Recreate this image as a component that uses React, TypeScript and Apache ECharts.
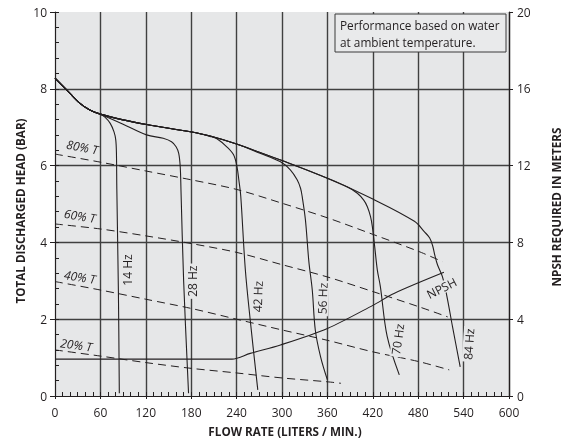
import React, { useEffect, useRef } from 'react';
import * as echarts from 'echarts';

// ---- data (flow L/min, head bar) ----
const hz14 = [[0, 8.28], [15, 7.98], [33, 7.62], [46, 7.45], [60, 7.34], [66, 7.26], [73, 7.1], [78, 6.88], [80.3, 6.67], [81.2, 6.32], [81.7, 5.4], [83.8, 2.7], [85, 0.07]];
const hz28 = [[0, 8.28], [15, 7.98], [33, 7.62], [46, 7.45], [60, 7.34], [90, 7.08], [121, 6.8], [143, 6.71], [154, 6.62], [160, 6.49], [163.5, 6.32], [165.5, 5.97], [166.5, 5.36], [170, 3.0], [176.5, 0.07]];
const hz42 = [[0, 8.28], [15, 7.98], [33, 7.62], [46, 7.45], [60, 7.34], [90, 7.19], [121, 7.07], [179, 6.88], [205, 6.76], [214, 6.7], [227, 6.49], [236, 6.28], [240.5, 5.97], [243, 5.62], [245.5, 5.2], [251.5, 3.3], [258, 1.98], [268, 0.16]];
const hz56 = [[0, 8.28], [15, 7.98], [33, 7.62], [46, 7.45], [60, 7.34], [90, 7.19], [121, 7.07], [179, 6.88], [205, 6.77], [240, 6.56], [270, 6.33], [298, 6.1], [311, 5.89], [320, 5.63], [324.5, 5.41], [326.7, 5.19], [331, 4.58], [335.5, 3.5], [340, 2.76], [344, 1.72], [351, 1.02], [360, 0.42]];
const hz70 = [[0, 8.28], [15, 7.98], [33, 7.62], [46, 7.45], [60, 7.34], [90, 7.19], [121, 7.07], [179, 6.88], [205, 6.77], [240, 6.56], [300, 6.13], [360, 5.67], [386, 5.45], [399.6, 5.28], [408, 5.1], [412.8, 4.93], [417, 4.67], [419.4, 4.41], [422.5, 3.89], [426, 3.28], [430, 2.85], [439, 1.55], [455, 0.55]];
const hz84 = [[0, 8.28], [15, 7.98], [33, 7.62], [46, 7.45], [60, 7.34], [90, 7.19], [121, 7.07], [179, 6.88], [205, 6.77], [240, 6.56], [300, 6.13], [360, 5.67], [420, 5.13], [475, 4.55], [488, 4.28], [495, 4.12], [499, 3.92], [502, 3.66], [505.6, 3.41], [512, 3.11], [518, 2.59], [525.4, 1.8], [535.5, 0.76]];

const eff80 = [[0, 6.3], [60, 6.09], [120, 5.86], [180, 5.63], [240, 5.38], [300, 5.02], [360, 4.64], [420, 4.21], [480, 3.77], [512, 3.5]];
const eff60 = [[0, 4.48], [60, 4.35], [120, 4.17], [180, 3.97], [240, 3.74], [300, 3.42], [360, 3.1], [420, 2.72], [480, 2.33], [519, 2.06]];
const eff40 = [[0, 2.98], [60, 2.76], [120, 2.52], [180, 2.28], [240, 2.0], [300, 1.72], [360, 1.45], [420, 1.15], [480, 0.9], [521, 0.68]];
const eff20 = [[0, 1.2], [60, 1.04], [120, 0.87], [180, 0.72], [240, 0.6], [300, 0.47], [360, 0.37], [378, 0.33]];

// NPSH required (flow L/min, meters)
const npsh = [[0, 1.92], [234, 1.92], [258, 2.22], [298, 2.66], [360, 3.52], [420, 4.72], [448, 5.34], [514, 6.44]];

const speedLabels = [
  { text: '14 Hz', flow: 96, head: 3.28, angle: 90 },
  { text: '28 Hz', flow: 182, head: 2.99, angle: 90 },
  { text: '42 Hz', flow: 268, head: 2.59, angle: 88 },
  { text: '56 Hz', flow: 353.6, head: 2.54, angle: 88 },
  { text: '70 Hz', flow: 453, head: 1.48, angle: 82 },
  { text: '84 Hz', flow: 547, head: 1.35, angle: 86 },
];
const effLabels = [
  { text: '80% T', flow: 36, head: 6.48, angle: -11 },
  { text: '60% T', flow: 33, head: 4.69, angle: -9 },
  { text: '40% T', flow: 33, head: 3.1, angle: -9 },
  { text: '20% T', flow: 28, head: 1.33, angle: -8 },
];
const npshLabel = { text: 'NPSH', flow: 511, head: 2.81, angle: 27 };
const noteLines = ['Performance based on water', 'at ambient temperature.'];

const FONT = '"Open Sans", "Noto Sans", sans-serif';
const INK = '#231f20';
const GRID_INK = '#404040';
const PLOT_BG = '#e6e7e8';

export default function App() {
  const ref = useRef<HTMLDivElement>(null);
  useEffect(() => {
    document.body.style.margin = '0';
    const chart = echarts.init(ref.current as HTMLDivElement, null, { renderer: 'svg' });
    const curve = (name: string, data: number[][]) => ({
      name, type: 'line', data, symbol: 'none', smooth: 0.35, silent: true, z: 3,
      lineStyle: { color: INK, width: 1.1 },
    });
    const dashed = (name: string, data: number[][]) => ({
      name, type: 'line', data, symbol: 'none', smooth: 0.3, silent: true, z: 3,
      lineStyle: { color: INK, width: 1, type: [8, 5] },
    });
    const option: any = {
      animation: false,
      grid: { left: 55, right: 56, top: 12, bottom: 45, show: true, backgroundColor: PLOT_BG, borderWidth: 0 },
      xAxis: [
        {
          type: 'value', min: 0, max: 600, interval: 60, position: 'bottom',
          axisLine: { show: true, onZero: false, lineStyle: { color: INK, width: 1.2 } },
          axisTick: { show: true, length: 3, lineStyle: { color: INK } },
          axisLabel: { color: INK, fontSize: 12, fontFamily: FONT, margin: 10 },
          splitLine: { show: true, showMinLine: false, lineStyle: { color: GRID_INK, width: 1.4 } },
        },
        {
          type: 'value', min: 0, max: 600, interval: 10, position: 'bottom',
          axisLine: { show: false, onZero: false },
          axisTick: { show: true, inside: true, length: 4, lineStyle: { color: INK } },
          axisLabel: { show: false },
          splitLine: { show: false },
        },
      ],
      yAxis: [
        {
          type: 'value', min: 0, max: 10, interval: 2, position: 'left',
          axisLine: { show: true, onZero: false, lineStyle: { color: INK, width: 1.2 } },
          axisTick: { show: true, length: 5, lineStyle: { color: INK } },
          axisLabel: { color: INK, fontSize: 12, fontFamily: FONT, margin: 8 },
          splitLine: { show: true, showMinLine: false, showMaxLine: false, lineStyle: { color: GRID_INK, width: 1.4 } },
        },
        {
          type: 'value', min: 0, max: 20, interval: 4, position: 'right',
          axisLine: { show: true, onZero: false, lineStyle: { color: INK, width: 1.2 } },
          axisTick: { show: true, length: 4, lineStyle: { color: INK } },
          axisLabel: { color: INK, fontSize: 12, fontFamily: FONT, margin: 8 },
          splitLine: { show: false },
        },
        {
          type: 'value', min: 0, max: 10, interval: 0.4, position: 'left',
          axisLine: { show: false, onZero: false },
          axisTick: { show: true, inside: true, length: 4, lineStyle: { color: INK } },
          axisLabel: { show: false },
          splitLine: { show: false },
        },
      ],
      series: [
        curve('14 Hz', hz14), curve('28 Hz', hz28), curve('42 Hz', hz42),
        curve('56 Hz', hz56), curve('70 Hz', hz70), curve('84 Hz', hz84),
        dashed('80% T', eff80), dashed('60% T', eff60), dashed('40% T', eff40), dashed('20% T', eff20),
        { ...curve('NPSH', npsh), yAxisIndex: 1, smooth: 0.3 },
      ],
    };
    chart.setOption(option);

    const toPx = (x: number, y: number) => chart.convertToPixel({ xAxisIndex: 0, yAxisIndex: 0 }, [x, y]) as number[];
    const labelEl = (l: any, italic: boolean, bg: boolean) => {
      const p = toPx(l.flow, l.head);
      return {
        type: 'text', x: p[0], y: p[1], rotation: (l.angle * Math.PI) / 180, z: 100, silent: true,
        style: {
          text: l.text, fill: INK, fontSize: 12, fontFamily: FONT,
          fontStyle: italic ? 'italic' : 'normal',
          align: 'center', verticalAlign: 'middle',
          backgroundColor: bg ? PLOT_BG : undefined, padding: bg ? [0, 2] : 0,
        },
      };
    };
    const titleStyle = { fill: INK, fontSize: 11.7, fontWeight: 'bold', fontFamily: FONT, align: 'center', verticalAlign: 'middle' };
    const graphics: any[] = [
      ...speedLabels.map((l) => labelEl(l, false, true)),
      ...effLabels.map((l) => labelEl(l, true, false)),
      labelEl(npshLabel, false, true),
      {
        type: 'group', x: 335, y: 14, z: 100,
        children: [
          { type: 'rect', shape: { x: 0, y: 0, width: 171, height: 38 }, style: { fill: '#e9eaeb', stroke: '#3a3a3a', lineWidth: 1 } },
          ...noteLines.map((t, i) => ({
            type: 'text', x: 5, y: 11 + i * 16.5,
            style: { text: t, fill: INK, fontSize: 11.8, fontFamily: FONT, verticalAlign: 'middle' },
          })),
        ],
      },
      { type: 'text', x: 19.5, y: 211, rotation: Math.PI / 2, z: 100, style: { text: 'TOTAL DISCHARGED HEAD (BAR)', ...titleStyle } },
      { type: 'text', x: 556, y: 207, rotation: Math.PI / 2, z: 100, style: { text: 'NPSH REQUIRED IN METERS', ...titleStyle } },
      { type: 'text', x: 285, y: 431, z: 100, style: { text: 'FLOW RATE (LITERS / MIN.)', ...titleStyle } },
    ];
    chart.setOption({ graphic: graphics });
    return () => chart.dispose();
  }, []);
  return <div ref={ref} style={{ position: 'fixed', left: 0, top: 0, width: 565, height: 441 }} />;
}
